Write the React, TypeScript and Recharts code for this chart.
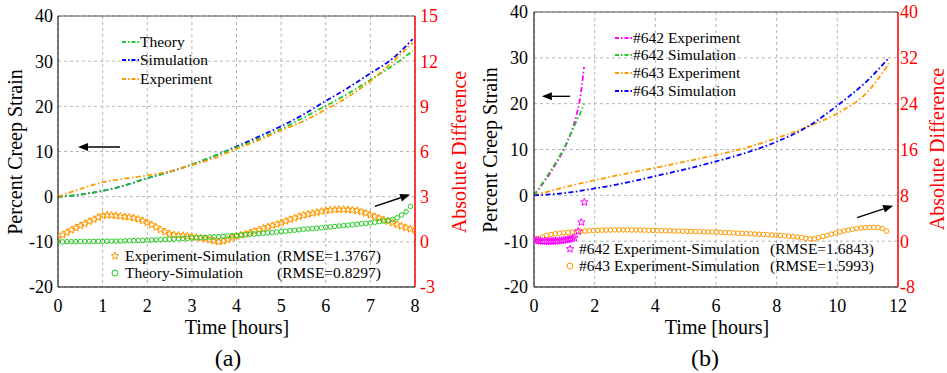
import React from "react";
import {
  CartesianGrid,
  ComposedChart,
  Line,
  ReferenceLine,
  Scatter,
  XAxis,
  YAxis,
} from "recharts";

const FONT = '"Liberation Serif", "Times New Roman", serif';
const GREEN = "#22cc22";
const BLUE = "#0000ff";
const ORANGE = "#ff9900";
const MAGENTA = "#ff00ff";
const RED = "#ff0000";
const DASHDOT = "5 2.5 1.5 2.5";

// ---- panel (a): creep strain curves (left axis, %) ----
const A_LINE_T = [0, 0.5, 1, 1.5, 2, 2.5, 3, 3.5, 4, 4.5, 5, 5.5, 6, 6.5, 7, 7.5, 7.95];
const A_THEORY = [0, 0.45, 1.3, 2.5, 4.1, 5.5, 7.1, 9.0, 10.9, 12.8, 15.0, 17.5, 20.1, 22.8, 25.9, 29.0, 32.3];
const A_SIM = [0, 0.45, 1.3, 2.5, 4.1, 5.5, 7.1, 9.0, 11.1, 13.3, 15.6, 18.2, 21.2, 24.1, 27.3, 30.6, 34.9];
const A_EXP = [0, 1.7, 3.2, 4.0, 4.7, 5.6, 7.0, 8.5, 10.6, 12.5, 14.7, 16.7, 19.3, 22.1, 25.6, 29.9, 34.1];

// absolute differences (right axis), sampled every 0.1 h
const A_DIFF_STEP = 0.1;
const A_EXP_SIM = [
  0.25, 0.45, 0.62, 0.78, 0.93, 1.07, 1.2, 1.35, 1.48, 1.62,
  1.74, 1.78, 1.77, 1.74, 1.71, 1.67, 1.64, 1.58, 1.5, 1.4,
  1.28, 1.12, 0.96, 0.8, 0.65, 0.53, 0.47, 0.44, 0.42, 0.38,
  0.33, 0.3, 0.26, 0.2, 0.13, 0.06, 0.0, 0.05, 0.15, 0.27,
  0.37, 0.45, 0.52, 0.6, 0.7, 0.8, 0.9, 0.99, 1.08, 1.17,
  1.27, 1.37, 1.48, 1.58, 1.68, 1.77, 1.84, 1.9, 1.96, 2.02,
  2.08, 2.12, 2.14, 2.15, 2.15, 2.14, 2.12, 2.07, 2.0, 1.9,
  1.78, 1.68, 1.56, 1.46, 1.36, 1.26, 1.14, 1.04, 0.94, 0.85,
  0.77,
];
const A_THEORY_SIM = [
  0.0, 0.0, 0.01, 0.01, 0.01, 0.02, 0.02, 0.02, 0.03, 0.03,
  0.03, 0.04, 0.04, 0.05, 0.05, 0.06, 0.07, 0.08, 0.09, 0.1,
  0.11, 0.12, 0.13, 0.14, 0.16, 0.17, 0.19, 0.2, 0.22, 0.23,
  0.25, 0.27, 0.28, 0.3, 0.32, 0.33, 0.35, 0.37, 0.39, 0.41,
  0.43, 0.45, 0.47, 0.5, 0.52, 0.54, 0.57, 0.59, 0.62, 0.65,
  0.68, 0.71, 0.74, 0.77, 0.8, 0.83, 0.86, 0.88, 0.91, 0.93,
  0.96, 0.99, 1.02, 1.05, 1.08, 1.11, 1.14, 1.17, 1.2, 1.23,
  1.26, 1.3, 1.34, 1.38, 1.43, 1.49, 1.6, 1.78, 2.0, 2.35,
];

// ---- panel (b) ----
const B_643_T = [0, 1, 2, 3, 4, 5, 6, 7, 8, 9, 10, 11, 11.7];
const B_643_EXP = [0, 1.75, 3.3, 4.7, 6.0, 7.4, 8.8, 10.4, 12.5, 14.9, 17.9, 22.6, 28.8];
const B_643_SIM = [0, 0.5, 1.5, 2.7, 4.2, 5.7, 7.4, 9.3, 11.7, 14.9, 19.6, 25.1, 30.0];
const B_642_T = [0, 0.25, 0.5, 0.75, 1, 1.25, 1.4, 1.5, 1.58, 1.65];
const B_642_EXP = [0, 2.2, 4.5, 7.2, 10.2, 14.2, 17.5, 20.5, 24.0, 28.0];
const B_642_SIM = [0, 2.4, 4.9, 7.5, 10.5, 14.0, 16.2, 17.6, 18.8, 20.0];

const B_642_DIFF_T = [
  0, 0.07, 0.14, 0.21, 0.28, 0.35, 0.42, 0.49, 0.56, 0.63,
  0.7, 0.77, 0.84, 0.91, 0.98, 1.05, 1.12, 1.19, 1.26, 1.33,
  1.46, 1.56, 1.66,
];
const B_642_DIFF = [
  0.25, 0.15, 0.08, 0.03, 0.0, -0.02, -0.03, -0.03, -0.02, 0.0,
  0.02, 0.05, 0.08, 0.12, 0.17, 0.22, 0.28, 0.35, 0.45, 0.6,
  1.7, 3.3, 6.8,
];
const B_643_DIFF_STEP = 0.14;
const B_643_DIFF = [
  0.0, 0.45, 0.75, 1.0, 1.15, 1.28, 1.38, 1.46, 1.53, 1.6,
  1.66, 1.72, 1.77, 1.82, 1.86, 1.89, 1.92, 1.94, 1.95, 1.96,
  1.97, 1.97, 1.97, 1.96, 1.95, 1.94, 1.92, 1.9, 1.88, 1.86,
  1.84, 1.82, 1.8, 1.78, 1.76, 1.74, 1.72, 1.7, 1.68, 1.66,
  1.64, 1.62, 1.6, 1.57, 1.54, 1.5, 1.47, 1.44, 1.4, 1.36,
  1.32, 1.28, 1.24, 1.2, 1.16, 1.12, 1.08, 1.03, 0.98, 0.92,
  0.86, 0.8, 0.72, 0.62, 0.5, 0.4, 0.42, 0.6, 0.8, 1.0,
  1.22, 1.42, 1.6, 1.78, 1.94, 2.08, 2.2, 2.3, 2.36, 2.4,
  2.4, 2.35, 2.2, 1.75,
];

const A_X_TICKS = [0, 1, 2, 3, 4, 5, 6, 7, 8];
const B_X_TICKS = [0, 2, 4, 6, 8, 10, 12];
const LEFT_TICKS = [-20, -10, 0, 10, 20, 30, 40];
const A_RIGHT_TICKS = [-3, 0, 3, 6, 9, 12, 15];
const B_RIGHT_TICKS = [-8, 0, 8, 16, 24, 32, 40];

const pairs = (ts: number[], vs: number[]) => ts.map((t, i) => ({ t, v: vs[i] }));
const stepped = (step: number, vs: number[]) =>
  vs.map((v, i) => ({ t: +(i * step).toFixed(3), v }));

const starPath = (cx: number, cy: number, R = 3.9, r = 1.7) => {
  let d = "";
  for (let i = 0; i < 10; i++) {
    const rad = i % 2 === 0 ? R : r;
    const a = -Math.PI / 2 + (i * Math.PI) / 5;
    d += `${i === 0 ? "M" : "L"}${cx + rad * Math.cos(a)},${cy + rad * Math.sin(a)}`;
  }
  return d + "Z";
};

const Star = (color: string) => (p: any) =>
  <path d={starPath(p.cx, p.cy)} fill="none" stroke={color} strokeWidth={1} />;
const Ring = (color: string) => (p: any) =>
  <circle cx={p.cx} cy={p.cy} r={2.3} fill="none" stroke={color} strokeWidth={1} />;

const Arrow = (p: any) => {
  const { x1, y1, x2, y2 } = p;
  const ang = Math.atan2(y2 - y1, x2 - x1);
  const L = 10;
  const W = 4;
  const bx = x2 - L * Math.cos(ang);
  const by = y2 - L * Math.sin(ang);
  const px = -Math.sin(ang) * W;
  const py = Math.cos(ang) * W;
  return (
    <g>
      <line x1={x1} y1={y1} x2={bx} y2={by} stroke="#000" strokeWidth={1.4} />
      <polygon points={`${x2},${y2} ${bx + px},${by + py} ${bx - px},${by - py}`} fill="#000" />
    </g>
  );
};

const tickStyle = { fontSize: 18, fontFamily: FONT, fill: "#000" };
const redTick = { ...tickStyle, fill: RED };

function LineSample({ color }: { color: string }) {
  return (
    <svg width={17} height={8} style={{ marginRight: 1 }}>
      <line x1={0} y1={4} x2={17} y2={4} stroke={color} strokeWidth={1.8} strokeDasharray="4 2 1.5 2" />
    </svg>
  );
}

function Row({ x, y, children }: { x: number; y: number; children: React.ReactNode }) {
  return (
    <div
      style={{
        position: "absolute",
        left: x,
        top: y - 9,
        height: 18,
        lineHeight: "18px",
        fontSize: 15.5,
        display: "flex",
        alignItems: "center",
        whiteSpace: "nowrap",
      }}
    >
      {children}
    </div>
  );
}

function VLabel({ x, y, text, color = "#000" }: { x: number; y: number; text: string; color?: string }) {
  return (
    <div
      style={{
        position: "absolute",
        left: x,
        top: y,
        fontSize: 20,
        color,
        whiteSpace: "nowrap",
        transform: "translate(-50%, -50%) rotate(-90deg)",
      }}
    >
      {text}
    </div>
  );
}

function HLabel({ x, y, text, size = 20 }: { x: number; y: number; text: string; size?: number }) {
  return (
    <div
      style={{
        position: "absolute",
        left: x,
        top: y,
        fontSize: size,
        whiteSpace: "nowrap",
        transform: "translate(-50%, -50%)",
      }}
    >
      {text}
    </div>
  );
}

function MarkerIcon({ kind, color }: { kind: "star" | "ring"; color: string }) {
  return (
    <svg width={10} height={10} style={{ position: "absolute", left: -5, top: 4 }}>
      {kind === "star" ? (
        <path d={starPath(5, 5)} fill="none" stroke={color} strokeWidth={1} />
      ) : (
        <circle cx={5} cy={5} r={3} fill="none" stroke={color} strokeWidth={1} />
      )}
    </svg>
  );
}

function PanelA() {
  return (
    <ComposedChart width={470} height={373} margin={{ top: 16, right: 0, bottom: 56, left: 0 }}>
      <CartesianGrid yAxisId="left" stroke="#b5b5b5" strokeDasharray="3 3" />
      <XAxis
        dataKey="t"
        type="number"
        domain={[0, 8]}
        ticks={A_X_TICKS}
        height={30}
        tick={tickStyle}
        tickLine={false}
        tickSize={6}
        tickMargin={6}
        axisLine={{ stroke: "#000" }}
        allowDataOverflow
      />
      <YAxis
        yAxisId="left"
        domain={[-20, 40]}
        ticks={LEFT_TICKS}
        width={58}
        tick={tickStyle}
        tickLine={false}
        tickSize={0}
        tickMargin={5}
        axisLine={{ stroke: "#000" }}
      />
      <YAxis
        yAxisId="right"
        orientation="right"
        domain={[-3, 15]}
        ticks={A_RIGHT_TICKS}
        width={55}
        tick={redTick}
        tickLine={false}
        tickSize={0}
        tickMargin={5}
        axisLine={{ stroke: RED, strokeWidth: 1.5 }}
      />
      <ReferenceLine yAxisId="left" y={40} stroke="#555" />
      <Line yAxisId="left" data={pairs(A_LINE_T, A_SIM)} dataKey="v" type="monotone" stroke={BLUE} strokeWidth={1.8} strokeDasharray={DASHDOT} dot={false} isAnimationActive={false} />
      <Line yAxisId="left" data={pairs(A_LINE_T, A_THEORY)} dataKey="v" type="monotone" stroke={GREEN} strokeWidth={1.8} strokeDasharray={DASHDOT} dot={false} isAnimationActive={false} />
      <Line yAxisId="left" data={pairs(A_LINE_T, A_EXP)} dataKey="v" type="monotone" stroke={ORANGE} strokeWidth={1.8} strokeDasharray={DASHDOT} dot={false} isAnimationActive={false} />
      <Scatter yAxisId="right" data={stepped(A_DIFF_STEP, A_EXP_SIM)} dataKey="v" shape={Star(ORANGE)} isAnimationActive={false} />
      <Scatter yAxisId="right" data={stepped(A_DIFF_STEP, A_THEORY_SIM)} dataKey="v" shape={Ring(GREEN)} isAnimationActive={false} />
      <ReferenceLine yAxisId="left" segment={[{ x: 1.39, y: 11 }, { x: 0.45, y: 11 }]} shape={Arrow} />
      <ReferenceLine yAxisId="right" segment={[{ x: 7.1, y: 2.35 }, { x: 7.89, y: 3.14 }]} shape={Arrow} />
    </ComposedChart>
  );
}

function PanelB() {
  return (
    <ComposedChart width={477} height={373} margin={{ top: 12, right: 0, bottom: 56, left: 0 }}>
      <CartesianGrid yAxisId="left" stroke="#b5b5b5" strokeDasharray="3 3" />
      <XAxis
        dataKey="t"
        type="number"
        domain={[0, 12]}
        ticks={B_X_TICKS}
        height={30}
        tick={tickStyle}
        tickLine={false}
        tickSize={6}
        tickMargin={6}
        axisLine={{ stroke: "#000" }}
        allowDataOverflow
      />
      <YAxis
        yAxisId="left"
        domain={[-20, 40]}
        ticks={LEFT_TICKS}
        width={64}
        tick={tickStyle}
        tickLine={false}
        tickSize={0}
        tickMargin={6}
        axisLine={{ stroke: "#000" }}
      />
      <YAxis
        yAxisId="right"
        orientation="right"
        domain={[-8, 40]}
        ticks={B_RIGHT_TICKS}
        width={49}
        tick={redTick}
        tickLine={false}
        tickSize={0}
        tickMargin={2}
        axisLine={{ stroke: RED, strokeWidth: 1.5 }}
      />
      <ReferenceLine yAxisId="left" y={40} stroke="#555" />
      <Line yAxisId="left" data={pairs(B_643_T, B_643_EXP)} dataKey="v" type="monotone" stroke={ORANGE} strokeWidth={1.8} strokeDasharray={DASHDOT} dot={false} isAnimationActive={false} />
      <Line yAxisId="left" data={pairs(B_643_T, B_643_SIM)} dataKey="v" type="monotone" stroke={BLUE} strokeWidth={1.8} strokeDasharray={DASHDOT} dot={false} isAnimationActive={false} />
      <Line yAxisId="left" data={pairs(B_642_T, B_642_EXP)} dataKey="v" type="monotone" stroke={MAGENTA} strokeWidth={1.8} strokeDasharray={DASHDOT} dot={false} isAnimationActive={false} />
      <Line yAxisId="left" data={pairs(B_642_T, B_642_SIM)} dataKey="v" type="monotone" stroke={GREEN} strokeWidth={1.8} strokeDasharray={DASHDOT} dot={false} isAnimationActive={false} />
      <Scatter yAxisId="right" data={stepped(B_643_DIFF_STEP, B_643_DIFF)} dataKey="v" shape={Ring(ORANGE)} isAnimationActive={false} />
      <Scatter yAxisId="right" data={pairs(B_642_DIFF_T, B_642_DIFF)} dataKey="v" shape={Star(MAGENTA)} isAnimationActive={false} />
      <ReferenceLine yAxisId="left" segment={[{ x: 1.19, y: 21.6 }, { x: 0.26, y: 21.6 }]} shape={Arrow} />
      <ReferenceLine yAxisId="right" segment={[{ x: 10.65, y: 4.1 }, { x: 11.84, y: 6.2 }]} shape={Arrow} />
    </ComposedChart>
  );
}

export default function App() {
  return (
    <div
      style={{
        position: "absolute",
        left: 0,
        top: 0,
        width: 947,
        height: 373,
        background: "#fff",
        fontFamily: FONT,
        color: "#000",
        overflow: "hidden",
      }}
    >
      <div style={{ position: "absolute", left: 0, top: 0 }}>
        <PanelA />
      </div>
      <div style={{ position: "absolute", left: 470, top: 0 }}>
        <PanelB />
      </div>

      {/* axis titles */}
      <VLabel x={15} y={152} text="Percent Creep Strain" />
      <VLabel x={459} y={152} text="Absolute Difference" color={RED} />
      <VLabel x={490} y={150} text="Percent Creep Strain" />
      <VLabel x={937} y={149} text="Absolute Difference" color={RED} />
      <HLabel x={237} y={327} text="Time [hours]" />
      <HLabel x={717} y={327} text="Time [hours]" />
      <HLabel x={228} y={358} text="(a)" size={24} />
      <HLabel x={705} y={358} text="(b)" size={24} />

      {/* panel (a) legends */}
      <Row x={122} y={42}><LineSample color={GREEN} />Theory</Row>
      <Row x={122} y={60}><LineSample color={BLUE} />Simulation</Row>
      <Row x={122} y={79}><LineSample color={ORANGE} />Experiment</Row>
      <Row x={115} y={256}><MarkerIcon kind="star" color={ORANGE} /><span style={{ marginLeft: 10 }}>Experiment-Simulation</span></Row>
      <Row x={277} y={256}>(RMSE=1.3767)</Row>
      <Row x={115} y={273}><MarkerIcon kind="ring" color={GREEN} /><span style={{ marginLeft: 10 }}>Theory-Simulation</span></Row>
      <Row x={277} y={273}>(RMSE=0.8297)</Row>

      {/* panel (b) legends */}
      <Row x={615} y={38}><LineSample color={MAGENTA} />#642 Experiment</Row>
      <Row x={615} y={55}><LineSample color={GREEN} />#642 Simulation</Row>
      <Row x={615} y={73}><LineSample color={ORANGE} />#643 Experiment</Row>
      <Row x={615} y={91}><LineSample color={BLUE} />#643 Simulation</Row>
      <Row x={570} y={249}><MarkerIcon kind="star" color={MAGENTA} /><span style={{ marginLeft: 9 }}>#642 Experiment-Simulation</span></Row>
      <Row x={770} y={249}>(RMSE=1.6843)</Row>
      <Row x={570} y={266}><MarkerIcon kind="ring" color={ORANGE} /><span style={{ marginLeft: 9 }}>#643 Experiment-Simulation</span></Row>
      <Row x={770} y={266}>(RMSE=1.5993)</Row>
    </div>
  );
}
